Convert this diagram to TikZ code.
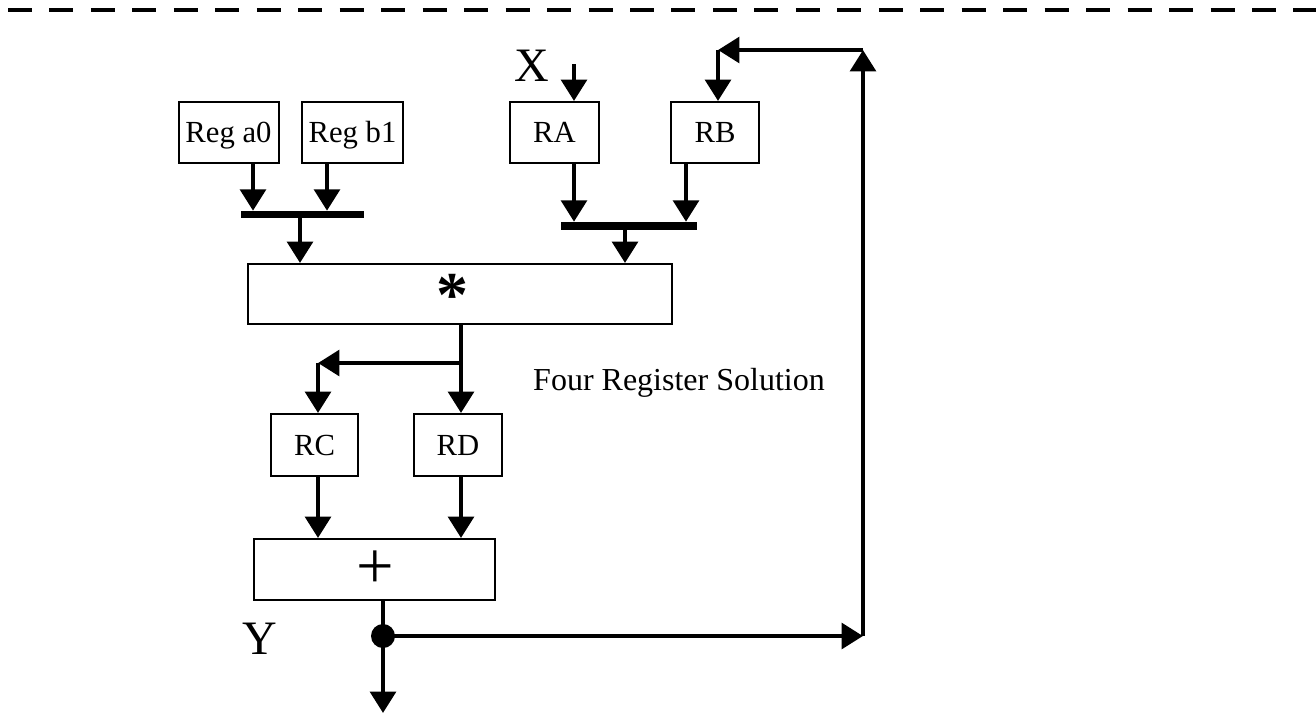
\documentclass[tikz,border=0pt]{standalone}
\usepackage{fontspec}
\setmainfont{Liberation Serif}
\usetikzlibrary{arrows.meta,calc}
\begin{document}
\begin{tikzpicture}[x=0.75pt,y=-0.75pt,
 box/.style={draw,line width=1.5pt,inner sep=0pt,text depth=0pt,font=\fontsize{23}{27}\selectfont},
 bar/.style={fill=black,draw=none,inner sep=0pt},
 arr/.style={line width=3.5pt,-{Triangle[length=16pt,width=19pt]}},
 wire/.style={line width=3.5pt},
 lab/.style={font=\fontsize{36}{40}\selectfont,inner sep=0pt},
 dashline/.style={line width=3pt,dash pattern=on 18pt off 13.1pt}]
\useasboundingbox (0,0) rectangle (1316,719);
% top dashed line
\coordinate (dashL) at (8,10);
\coordinate (dashR) at (1316,10);
\draw[dashline] (dashL) -- (dashR);
% boxes
\node[box,minimum width=75pt,minimum height=45.75pt] (rega0) at (228.5,132) {Reg a0};
\node[box,minimum width=75.75pt,minimum height=45.75pt] (regb1) at (352.5,132) {Reg b1};
\node[box,minimum width=66.75pt,minimum height=45.75pt] (ra) at (554.5,132.5) {RA};
\node[box,minimum width=66pt,minimum height=45.75pt] (rb) at (715,132.5) {RB};
\node[bar,minimum width=92.25pt,minimum height=5.25pt] (bar1) at (302.5,214.5) {};
\node[bar,minimum width=102pt,minimum height=6pt] (bar2) at (629,226) {};
\node[box,minimum width=318pt,minimum height=45pt] (mul) at (460,294) {};
\node[font=\bfseries\fontsize{48}{50}\selectfont,anchor=base,inner sep=0pt] (star) at (452,316) {*};
\node[box,minimum width=65.25pt,minimum height=46.5pt] (rc) at (314.5,445) {RC};
\node[box,minimum width=66pt,minimum height=46.5pt] (rd) at (458,445) {RD};
\node[box,minimum width=180.75pt,minimum height=45.75pt] (add) at (374.5,569.5) {};
\node[font=\fontsize{50}{52}\selectfont,anchor=base,inner sep=0pt] (plus) at (375.5,588) {+};
\node[lab] (X) at (532,66) {X};
\node[lab] (Y) at (260,639) {Y};
\node[font=\fontsize{24}{28}\selectfont,inner sep=0pt] (title) at (679,383) {Four Register Solution};
% coordinates
\coordinate (xin) at (574,64);
\coordinate (split) at (461,363);
\coordinate (rcturn) at (318,363);
\coordinate (dot) at (383,636);
\coordinate (yout) at (383,713);
\coordinate (corner1) at (863,636);
\coordinate (corner2) at (863,50);
\coordinate (corner3) at (718,50);
% arrows into bars
\draw[arr] ([xshift=18.375pt]rega0.south) -- ([xshift=18.375pt]rega0.south |- bar1.north);
\draw[arr] ([xshift=-19.125pt]regb1.south) -- ([xshift=-19.125pt]regb1.south |- bar1.north);
\draw[arr] ([xshift=-1.875pt]bar1.south) -- ([xshift=-1.875pt]bar1.south |- mul.north);
\draw[arr] (xin) -- (xin |- ra.north);
\draw[arr] ([xshift=14.625pt]ra.south) -- ([xshift=14.625pt]ra.south |- bar2.north);
\draw[arr] ([xshift=-21.75pt]rb.south) -- ([xshift=-21.75pt]rb.south |- bar2.north);
\draw[arr] ([xshift=-3pt]bar2.south) -- ([xshift=-3pt]bar2.south |- mul.north);
% multiplier output
\draw[arr] (split |- mul.south) -- (split |- rd.north);
\draw[arr] (split) -- (rcturn);
\draw[arr] (rcturn) -- (rcturn |- rc.north);
\draw[arr] (rcturn |- rc.south) -- (rcturn |- add.north);
\draw[arr] (split |- rd.south) -- (split |- add.north);
% adder output and feedback
\draw[wire] (dot |- add.south) -- (dot);
\draw[arr] (dot) -- (yout);
\node[circle,fill=black,minimum size=18pt,inner sep=0pt] (dotn) at (dot) {};
\draw[arr] (dotn.center) -- (corner1);
\draw[arr] (corner1) -- (corner2);
\draw[arr] (corner2) -- (corner3);
\draw[arr] (corner3) -- (corner3 |- rb.north);
\end{tikzpicture}
\end{document}
